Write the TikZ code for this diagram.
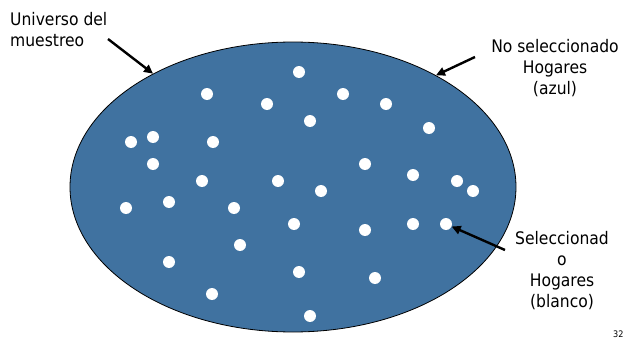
\documentclass[tikz,border=0pt]{standalone}
\usepackage{fontspec}
\setmainfont{DejaVu Sans Condensed}
\usepackage{tikz}
\usetikzlibrary{shapes.geometric, arrows.meta}

\definecolor{poblacion}{RGB}{64,114,160}

\tikzset{
  hogar/.style={circle, fill=white, inner sep=0pt, minimum size=12pt},
  etiqueta/.style={align=center, font=\fontsize{17.3}{21}\selectfont, inner sep=0pt},
  flecha/.style={line width=2.4pt, -{Triangle[length=9pt, width=8.5pt]}}
}

\begin{document}
\begin{tikzpicture}[x=1pt, y=-1pt]
  \useasboundingbox (0,0) rectangle (625,340);

  % Universe of the sample
  \node[ellipse, draw=black, line width=0.8pt, fill=poblacion,
        minimum width=446pt, minimum height=290pt, inner sep=0pt] (universo) at (293,187) {};

  % Selected households (white dots)
  \foreach \x/\y [count=\i] in {299/72, 207/94, 267/104, 343/94, 386/104, 310/121, 429/128,
      131/142, 153/137, 213/142, 153/164, 365/164, 413/175, 457/181, 473/191,
      202/181, 278/181, 321/191, 126/208, 169/202, 234/208, 294/224, 365/230,
      413/224, 446/224, 240/245, 169/262, 299/272, 375/278, 212/294, 310/316}
    \node[hogar] (d\i) at (\x,\y) {};

  % Labels
  \node[etiqueta, align=left, anchor=north west] (muestreo) at (10,12) {Universo del\\muestreo};
  \node[etiqueta, anchor=north] (azul) at (555,39) {No seleccionado\\Hogares\\(azul)};
  \node[etiqueta, anchor=north] (blanco) at (562,231) {Seleccionad\\o\\Hogares\\(blanco)};
  \node[font=\fontsize{9}{10}\selectfont, anchor=base west, inner sep=0pt] (pagina) at (613,337) {32};

  % Arrows
  \coordinate (c1) at (108,39);
  \coordinate (c2) at (475,57);
  \coordinate (c3) at (505,250);
  \draw[flecha] (c1) -- (universo.141);
  \draw[flecha] (c2) -- (universo.38);
  \draw[flecha] (c3) -- (d25);

\end{tikzpicture}
\end{document}
